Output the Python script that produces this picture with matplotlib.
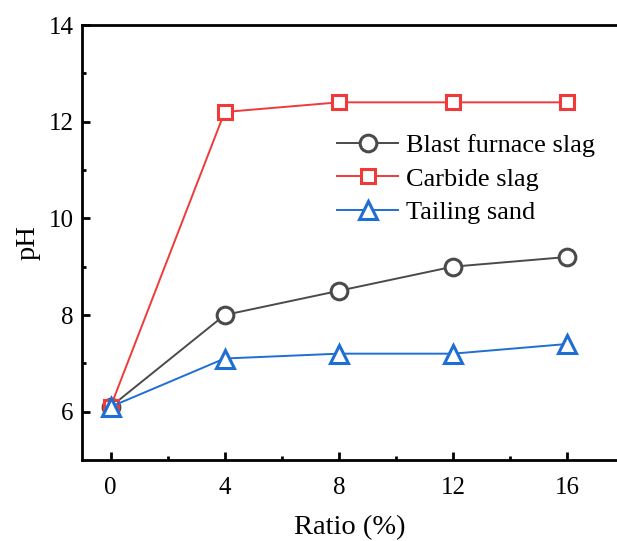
import numpy as np
import matplotlib.pyplot as plt

plt.rcParams['font.family'] = ['Liberation Serif', 'DejaVu Serif']

ratio = [0, 4, 8, 12, 16]
blast_furnace = [6.1, 8.0, 8.5, 9.0, 9.2]
carbide = [6.1, 12.2, 12.4, 12.4, 12.4]
tailing = [6.1, 7.1, 7.2, 7.2, 7.4]

fig = plt.figure(figsize=(6.17, 5.41), dpi=100)
ax = fig.add_axes([82/617, 1-460/541, 1-82/617, (460-25)/541])

ax.plot(ratio, blast_furnace, color='#4a4a4a', marker='o', ms=12, mfc='white',
        mew=2.2, lw=1.4, label='Blast furnace slag')
ax.plot(ratio, carbide, color='#f03a3a', marker='s', ms=10.5, mfc='white',
        mew=2.2, lw=1.4, label='Carbide slag')
ax.plot(ratio, tailing, color='#1f6ed4', marker='^', ms=13, mfc='white',
        mew=2.2, lw=1.4, label='Tailing sand')

ax.set_xlim(-1, 17.75)
ax.set_ylim(5, 14)
ax.set_xticks([0, 4, 8, 12, 16])
ax.set_xticks([2, 6, 10, 14], minor=True)
ax.set_yticks([6, 8, 10, 12, 14])
ax.set_yticks([7, 9, 11, 13], minor=True)
ax.spines['right'].set_visible(False)
for s in ['left', 'bottom', 'top']:
    ax.spines[s].set_linewidth(2)
ax.tick_params(which='major', direction='in', length=6, width=2, labelsize=18,
               top=False, right=False)
ax.tick_params(axis='x', pad=12)
ax.tick_params(axis='y', pad=6)
ax.tick_params(which='minor', direction='in', length=3, width=2,
               top=False, right=False)

ax.set_xlabel('Ratio (%)', fontsize=20.5, labelpad=12)
ax.set_ylabel('pH', fontsize=20.5, labelpad=6)

ax.legend(loc='upper left', bbox_to_anchor=(0.443, 0.792), frameon=False,
          fontsize=19, handlelength=2.3, labelspacing=0.37, borderpad=0.2,
          handletextpad=0.3)

fig.savefig('out.png', dpi=100)
